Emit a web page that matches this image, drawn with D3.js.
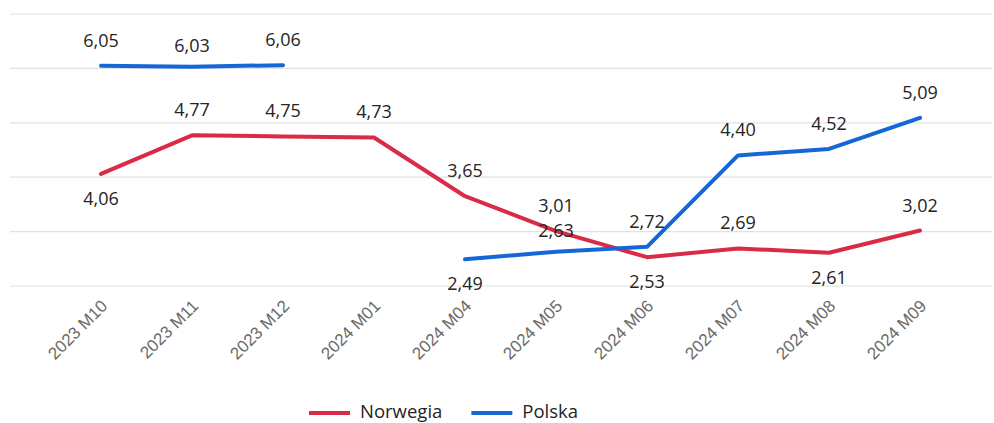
<!DOCTYPE html>
<html>
<head>
<meta charset="utf-8">
<script src="https://cdn.jsdelivr.net/npm/d3@7"></script>
<style>
  body { margin: 0; background: #fff; }
  svg { font-family: "Open Sans", "Noto Sans", sans-serif; }
</style>
</head>
<body>
<svg width="994" height="423"></svg>
<script>
var months = ["2023 M10", "2023 M11", "2023 M12", "2024 M01", "2024 M04",
              "2024 M05", "2024 M06", "2024 M07", "2024 M08", "2024 M09"];
var norwegia = [4.06, 4.77, 4.75, 4.73, 3.65, 3.01, 2.53, 2.69, 2.61, 3.02];
var polska = [6.05, 6.03, 6.06, null, 2.49, 2.63, 2.72, 4.40, 4.52, 5.09];
var gridTicks = [2, 3, 4, 5, 6, 7];

// where each data label sits: a = above, t = above (tight), b = below
var norwegiaLabelPos = ["b", "a", "a", "a", "a", "a", "b", "a", "b", "a"];
var polskaLabelPos = ["a", "t", "a", "a", "b", "t", "a", "a", "a", "a"];

var series = [
  {name: "Norwegia", values: norwegia, pos: norwegiaLabelPos, color: "#D92B45"},
  {name: "Polska", values: polska, pos: polskaLabelPos, color: "#1468D6"}
];

var svg = d3.select("svg");

var x = d3.scalePoint().domain(months).range([101, 920]);
var y = d3.scaleLinear().domain([2, 7]).range([286, 14]);

// gridlines
svg.append("g")
    .selectAll("line")
    .data(gridTicks)
    .enter().append("line")
    .attr("x1", 10).attr("x2", 992)
    .attr("y1", function(d) { return y(d); })
    .attr("y2", function(d) { return y(d); })
    .attr("stroke", "#e1e1e1")
    .attr("stroke-width", 1.2);

// x axis labels
var xAxis = d3.axisBottom(x).tickSize(0).tickPadding(0);
var xg = svg.append("g")
    .attr("transform", "translate(0,286)")
    .call(xAxis);
xg.select(".domain").remove();
xg.selectAll("text")
    .attr("fill", "#6b6a68")
    .style("font-size", "17px")
    .attr("text-anchor", "end")
    .attr("dy", 0)
    .attr("y", 0)
    .attr("transform", "translate(7,21) rotate(-45)");

var line = d3.line()
    .defined(function(d) { return d != null; })
    .x(function(d, i) { return x(months[i]); })
    .y(function(d) { return y(d); });

series.forEach(function(s) {
  svg.append("path")
      .datum(s.values)
      .attr("fill", "none")
      .attr("stroke", s.color)
      .attr("stroke-width", 4)
      .attr("stroke-linejoin", "round")
      .attr("stroke-linecap", "round")
      .attr("d", line);
});

// data labels
series.forEach(function(s) {
  svg.append("g")
      .selectAll("text")
      .data(s.values.map(function(v, i) { return {v: v, i: i, p: s.pos[i]}; })
        .filter(function(d) { return d.v != null; }))
      .enter().append("text")
      .attr("x", function(d) { return x(months[d.i]); })
      .attr("y", function(d) {
        var off = d.p === "b" ? 31 : (d.p === "t" ? -15 : -19);
        return y(d.v) + off;
      })
      .attr("text-anchor", "middle")
      .attr("fill", "#252423")
      .style("font-size", "18px")
      .text(function(d) { return d.v.toFixed(2).replace(".", ","); });
});

// legend
var legend = svg.append("g").attr("transform", "translate(309,413)");
var lx = 0;
series.forEach(function(s) {
  var item = legend.append("g").attr("transform", "translate(" + lx + ",0)");
  item.append("line")
      .attr("x1", 0).attr("x2", 41)
      .attr("stroke", s.color)
      .attr("stroke-width", 4);
  var t = item.append("text")
      .attr("x", 51)
      .attr("y", 5)
      .attr("fill", "#252423")
      .style("font-size", "18.5px")
      .text(s.name);
  lx += 51 + t.node().getComputedTextLength() + 29;
});
</script>
</body>
</html>
